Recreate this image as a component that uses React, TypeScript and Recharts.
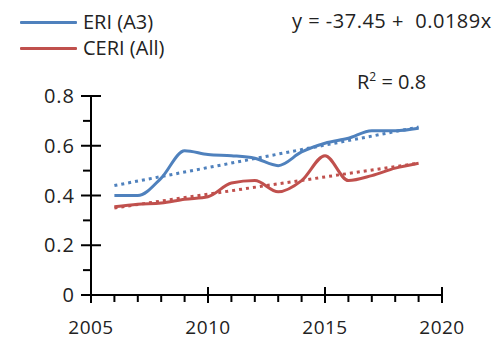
import React from 'react';
import { LineChart, Line, XAxis, YAxis } from 'recharts';

const years = [2006, 2007, 2008, 2009, 2010, 2011, 2012, 2013, 2014, 2015, 2016, 2017, 2018, 2019];
const eriValues = [0.4, 0.4, 0.47, 0.58, 0.565, 0.56, 0.55, 0.52, 0.575, 0.61, 0.63, 0.66, 0.66, 0.67];
const ceriValues = [0.355, 0.365, 0.37, 0.385, 0.395, 0.45, 0.46, 0.415, 0.46, 0.56, 0.46, 0.48, 0.51, 0.53];
const eriTrend: (number | null)[] = [0.44, null, null, null, null, null, null, null, null, null, null, null, null, 0.675];
const ceriTrend: (number | null)[] = [0.35, null, null, null, null, null, null, null, null, null, null, null, null, 0.53];

const xTicks = [2005, 2006, 2007, 2008, 2009, 2010, 2011, 2012, 2013, 2014, 2015, 2016, 2017, 2018, 2019, 2020];
const xMajor = [2005, 2010, 2015, 2020];
const yTicks = [0, 0.1, 0.2, 0.3, 0.4, 0.5, 0.6, 0.7, 0.8];
const yMajorLabels: Record<string, string> = { '0': '0', '0.2': '0.2', '0.4': '0.4', '0.6': '0.6', '0.8': '0.8' };

const seriesNames = ['ERI (A3)', 'CERI (All)'];
const equationText = 'y = -37.45 +  0.0189x';
const r2Label = 'R';
const r2Value = ' = 0.8';

const BLUE = '#4F81BD';
const RED = '#C0504D';
const seriesColors = [BLUE, RED];
const FONT = '"Open Sans", sans-serif';
const TEXT = '#222';

const data = years.map((year, i) => ({
  year,
  eri: eriValues[i],
  ceri: ceriValues[i],
  eriTrend: eriTrend[i],
  ceriTrend: ceriTrend[i],
}));

const YTick = (props: any) => {
  const { x, y, payload } = props;
  const key = String(Math.round(payload.value * 10) / 10);
  const label = yMajorLabels[key];
  const major = label !== undefined;
  return (
    <g>
      <line x1={major ? x - 10 : x - 8} x2={major ? x + 10 : x} y1={y} y2={y} stroke="#000" strokeWidth={2} />
      {major && (
        <text x={x - 16} y={y} dy="0.36em" textAnchor="end" fontSize={20} fontFamily={FONT} fill={TEXT} letterSpacing={1}>
          {label}
        </text>
      )}
    </g>
  );
};

const XTick = (props: any) => {
  const { x, y, payload } = props;
  const major = xMajor.includes(payload.value);
  return (
    <g>
      <line x1={x} x2={x} y1={major ? y - 8 : y} y2={major ? y + 8 : y + 7} stroke="#000" strokeWidth={2} />
      {major && (
        <text x={x} y={y + 32} dy="0.36em" textAnchor="middle" fontSize={19} fontFamily={FONT} fill={TEXT} letterSpacing={0.5}>
          {payload.value}
        </text>
      )}
    </g>
  );
};

export default function App() {
  return (
    <div style={{ position: 'absolute', left: 0, top: 0, width: 500, height: 338, background: '#fff', overflow: 'hidden' }}>
      <LineChart width={500} height={352} data={data} margin={{ top: 96, right: 58, bottom: 0, left: 0 }}>
        <XAxis
          dataKey="year"
          type="number"
          domain={[2005, 2020]}
          ticks={xTicks}
          interval={0}
          height={57}
          tickSize={0}
          tickMargin={0}
          tickLine={false}
          axisLine={{ stroke: '#000', strokeWidth: 2 }}
          tick={<XTick />}
        />
        <YAxis
          type="number"
          domain={[0, 0.8]}
          ticks={yTicks}
          interval={0}
          width={91}
          tickSize={0}
          tickMargin={0}
          tickLine={false}
          axisLine={{ stroke: '#000', strokeWidth: 2 }}
          tick={<YTick />}
        />
        <Line dataKey="eriTrend" stroke={BLUE} strokeWidth={3} strokeDasharray="3 4" connectNulls dot={false} activeDot={false} legendType="none" isAnimationActive={false} />
        <Line dataKey="ceriTrend" stroke={RED} strokeWidth={3} strokeDasharray="3 4" connectNulls dot={false} activeDot={false} legendType="none" isAnimationActive={false} />
        <Line name={seriesNames[0]} dataKey="eri" type="monotone" stroke={BLUE} strokeWidth={3} dot={false} activeDot={false} isAnimationActive={false} />
        <Line name={seriesNames[1]} dataKey="ceri" type="monotone" stroke={RED} strokeWidth={3} dot={false} activeDot={false} isAnimationActive={false} />
      </LineChart>
      <div style={{ position: 'absolute', left: 20, top: 9, fontFamily: FONT, fontSize: 20, color: TEXT }}>
        {seriesNames.map((name, i) => (
          <div key={name} style={{ display: 'flex', alignItems: 'center', height: 26 }}>
            <div style={{ width: 57, height: 3, background: seriesColors[i], marginRight: 6, borderRadius: 1 }} />
            <span style={{ lineHeight: '26px' }}>{name}</span>
          </div>
        ))}
      </div>
      <div style={{ position: 'absolute', left: 292, top: 7, fontFamily: FONT, fontSize: 20, color: TEXT, whiteSpace: 'pre', lineHeight: '28px', letterSpacing: 0.5 }}>
        {equationText}
      </div>
      <div style={{ position: 'absolute', left: 357, top: 63, fontFamily: FONT, fontSize: 20, color: TEXT, whiteSpace: 'pre', lineHeight: '28px' }}>
        {r2Label}
        <sup style={{ fontSize: 12 }}>2</sup>
        {r2Value}
      </div>
    </div>
  );
}
